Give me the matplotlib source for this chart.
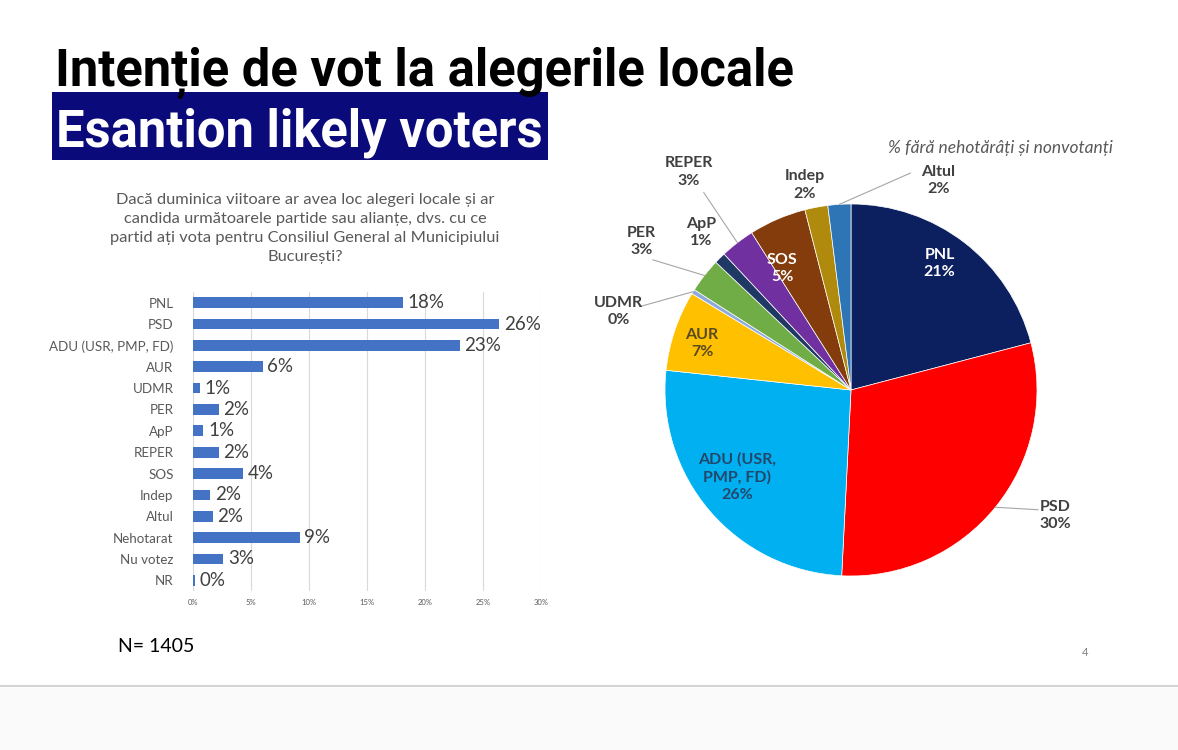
import numpy as np
import matplotlib.pyplot as plt
from matplotlib.patches import Rectangle

plt.rcParams['font.family'] = ['Lato', 'DejaVu Sans']

# ---- date bare (intentie de vot, total esantion)
bar_labels = ['PNL', 'PSD', 'ADU (USR, PMP, FD)', 'AUR', 'UDMR', 'PER', 'ApP',
              'REPER', 'SOS', 'Indep', 'Altul', 'Nehotarat', 'Nu votez', 'NR']
bar_values = [18.1, 26.4, 23.0, 6.0, 0.6, 2.2, 0.9, 2.2, 4.3, 1.5, 1.7, 9.2, 2.6, 0.2]
x_ticks = [0, 5, 10, 15, 20, 25, 30]

# ---- date pie (fara nehotarati si nonvotanti)
pie_labels = ['PNL', 'PSD', 'ADU (USR,\nPMP, FD)', 'AUR', 'UDMR', 'PER', 'ApP',
              'REPER', 'SOS', 'Indep', 'Altul']
pie_values = [21, 30, 26, 7, 0.4, 3, 1, 3, 5, 2, 2]
pie_colors = ['#0c1f5e', '#ff0000', '#00b0f0', '#ffc000', '#8eaadb', '#70ad47',
              '#203864', '#7030a0', '#843c0c', '#b08a0c', '#2e75b6']

# pozitia etichetelor: raza, deplasare unghi (grade)
lab_r = [0.83, 1.29, 0.77, 0.84, 1.32, 1.38, 1.17, 1.46, 0.75, 1.13, 1.22]
lab_dang = [2.6, 7.6, -3.0, 1.2, 13.3, 2.6, -1.2, -1.0, 6.3, 2.0, -26.2]
lab_col = ['white', '#404040', '#24476b', '#5a4a20', '#404040', '#404040',
           '#404040', '#404040', 'white', '#404040', '#404040']
# linii de legatura: index -> capat relativ la eticheta
leader = {1: (-0.095, 0.03), 4: (0.115, 0.027), 5: (0.06, -0.10),
          7: (0.08, -0.11), 10: (-0.15, 0.04)}

W, H = 1178, 750
fig = plt.figure(figsize=(W / 100, H / 100), dpi=100)
fig.patch.set_facecolor('white')

# titluri
fig.text(55 / W, 1 - 86 / H, 'Intenție de vot la alegerile locale', fontsize=36.5,
         fontweight='bold', family=['Roboto', 'DejaVu Sans'], color='black', va='baseline')
fig.patches.append(Rectangle((52 / W, 1 - 160 / H), 496 / W, 68 / H,
                             transform=fig.transFigure, facecolor='#0a0a7a', edgecolor='none'))
fig.text(56 / W, 1 - 147 / H, 'Esantion likely voters', fontsize=36.5,
         fontweight='bold', family=['Roboto', 'DejaVu Sans'], color='white', va='baseline')

# intrebarea
fig.text(305 / W, 1 - 193 / H,
         'Dacă duminica viitoare ar avea loc alegeri locale și ar\n'
         'candida următoarele partide sau alianțe, dvs. cu ce\n'
         'partid ați vota pentru Consiliul General al Municipiului\n'
         'București?', fontsize=11.8, color='#595959', ha='center', va='top',
         multialignment='center', linespacing=1.45)

# ---- bar chart
ax = fig.add_axes([193 / W, 1 - 591 / H, 348 / W, 299 / H])
y = np.arange(len(bar_labels))
ax.barh(y, bar_values, height=0.5, color='#4472c4', zorder=3)
for yi, v in zip(y, bar_values):
    ax.text(v + 0.4, yi, f'{v:.0f}%', va='center', ha='left', fontsize=13.5, color='#404040')
ax.set_ylim(len(bar_labels) - 0.5, -0.5)
ax.set_xlim(0, 30)
ax.set_yticks(y)
ax.set_yticklabels(bar_labels, fontsize=9.6, color='#595959')
ax.set_xticks(x_ticks)
ax.set_xticklabels([f'{t}%' for t in x_ticks], fontsize=5.5, color='#595959')
ax.tick_params(length=0, pad=14)
ax.tick_params(axis='x', pad=6)
ax.grid(axis='x', color='#d9d9d9', linewidth=0.8, zorder=0)
for s in ax.spines.values():
    s.set_visible(False)

# ---- pie chart
R = 186
axp = fig.add_axes([(851 - R) / W, 1 - (390 + R) / H, 2 * R / W, 2 * R / H])
wedges, _ = axp.pie(pie_values, colors=pie_colors, startangle=90, counterclock=False,
                    radius=1, wedgeprops=dict(edgecolor='white', linewidth=0.5))
axp.set_xlim(-1, 1)
axp.set_ylim(-1, 1)
axp.axis('off')

for i, w in enumerate(wedges):
    mid = np.deg2rad((w.theta1 + w.theta2) / 2)
    ang = mid + np.deg2rad(lab_dang[i])
    lx, ly = lab_r[i] * np.cos(ang), lab_r[i] * np.sin(ang)
    pct = pie_values[i]
    axp.text(lx, ly, f'{pie_labels[i]}\n{pct:.0f}%', ha='center', va='center',
             fontsize=11.5, fontweight='bold', color=lab_col[i], linespacing=1.3)
    if i in leader:
        ex, ey = lx + leader[i][0], ly + leader[i][1]
        axp.plot([np.cos(mid), ex], [np.sin(mid), ey], color='#a6a6a6', lw=0.8, clip_on=False)

fig.text(1000 / W, 1 - 148 / H, '% fără nehotărâți și nonvotanți', fontsize=12.5,
         style='italic', color='#595959', ha='center', va='center')

# subsol
fig.text(118 / W, 1 - 647 / H, 'N= 1405', fontsize=14, color='black', va='center')
fig.text(1085 / W, 1 - 653 / H, '4', fontsize=8, color='#808080', va='center', ha='center')
fig.patches.append(Rectangle((0, 0), 1, 62 / H, transform=fig.transFigure,
                             facecolor='#fafafa', edgecolor='none'))
fig.lines.append(plt.Line2D([0, 1], [1 - 686 / H, 1 - 686 / H], transform=fig.transFigure,
                            color='#d4d4d4', lw=1.5))

fig.savefig('out.png', dpi=100)
